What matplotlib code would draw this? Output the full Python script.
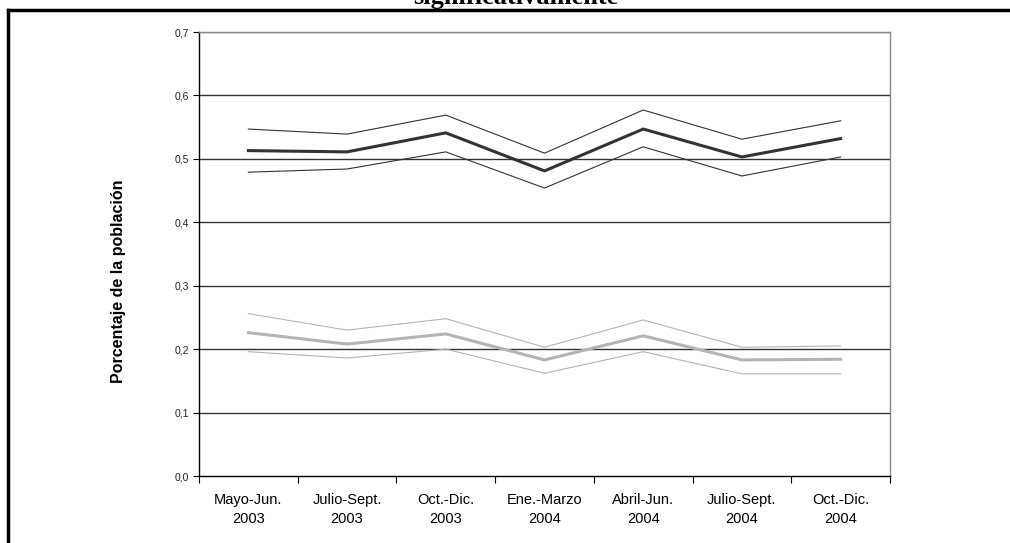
import numpy as np
import matplotlib
matplotlib.use('Agg')
import matplotlib.pyplot as plt
from matplotlib.lines import Line2D

plt.rcParams['font.family'] = ['Liberation Sans', 'DejaVu Sans']

periodos = ['Mayo-Jun.\n2003', 'Julio-Sept.\n2003', 'Oct.-Dic.\n2003', 'Ene.-Marzo\n2004',
            'Abril-Jun.\n2004', 'Julio-Sept.\n2004', 'Oct.-Dic.\n2004']

# serie oscura (media y bandas)
oscura = [0.513, 0.511, 0.541, 0.481, 0.547, 0.503, 0.532]
oscura_sup = [0.547, 0.539, 0.569, 0.509, 0.577, 0.531, 0.560]
oscura_inf = [0.479, 0.484, 0.511, 0.454, 0.519, 0.473, 0.503]

# serie clara
clara = [0.226, 0.208, 0.224, 0.183, 0.221, 0.183, 0.184]
clara_sup = [0.256, 0.230, 0.248, 0.203, 0.246, 0.203, 0.205]
clara_inf = [0.196, 0.186, 0.200, 0.162, 0.196, 0.161, 0.161]

yticks = [0.0, 0.1, 0.2, 0.3, 0.4, 0.5, 0.6, 0.7]


def main():
    fig = plt.figure(figsize=(10.1, 5.43), dpi=100)
    ax = fig.add_axes([199 / 1010, 1 - 476 / 543, 691 / 1010, 444 / 543])

    x = np.arange(len(periodos))

    for v in yticks[1:-1]:
        ax.axhline(v, color='#333333', lw=1.0, zorder=1)
    ax.axhline(0.7, color='#888888', lw=1.0, zorder=1)

    ax.plot(x, oscura_sup, color='#333333', lw=0.8, zorder=3)
    ax.plot(x, oscura_inf, color='#333333', lw=0.8, zorder=3)
    ax.plot(x, oscura, color='#333333', lw=2.2, zorder=4)

    ax.plot(x, clara_sup, color='#b4b4b4', lw=0.8, zorder=3)
    ax.plot(x, clara_inf, color='#b4b4b4', lw=0.8, zorder=3)
    ax.plot(x, clara, color='#b4b4b4', lw=2.2, zorder=4)

    ax.set_xlim(-0.5, len(periodos) - 0.5)
    ax.set_ylim(0, 0.7)

    ax.set_yticks(yticks)
    ax.set_yticklabels([('%.1f' % v).replace('.', ',') for v in yticks], fontsize=7.5, color='#222222')
    ax.tick_params(axis='y', direction='out', length=4, width=0.8, pad=3)

    ax.set_xticks(np.arange(len(periodos) + 1) - 0.5)
    ax.set_xticklabels([])
    ax.set_xticks(x, minor=True)
    ax.set_xticklabels(periodos, minor=True, fontsize=10.5, linespacing=1.45)
    ax.tick_params(axis='x', which='major', direction='out', length=5, width=0.8)
    ax.tick_params(axis='x', which='minor', length=0, pad=12)

    ax.spines['left'].set_color('black')
    ax.spines['bottom'].set_color('black')
    ax.spines['top'].set_color('#888888')
    ax.spines['right'].set_color('#888888')
    for s in ax.spines.values():
        s.set_linewidth(1.0)

    # etiqueta del eje y colocada en coordenadas de figura
    fig.text(119 / 1010, 1 - 281 / 543, 'Porcentaje de la población', rotation=90,
             ha='center', va='center', fontsize=11.5, fontweight='bold')

    # marco exterior y título recortado
    fig.add_artist(Line2D([8 / 1010, 1], [1 - 10 / 543, 1 - 10 / 543], color='black', lw=2.5,
                          transform=fig.transFigure))
    fig.add_artist(Line2D([8 / 1010, 8 / 1010], [0, 1 - 10 / 543], color='black', lw=2.5,
                          transform=fig.transFigure))
    fig.text(516 / 1010, 1 - 4 / 543, 'significativamente', ha='center', va='baseline',
             fontsize=19, fontweight='bold', family=['Liberation Serif', 'DejaVu Serif'])

    fig.savefig('out.png', dpi=100)


if __name__ == '__main__':
    main()
